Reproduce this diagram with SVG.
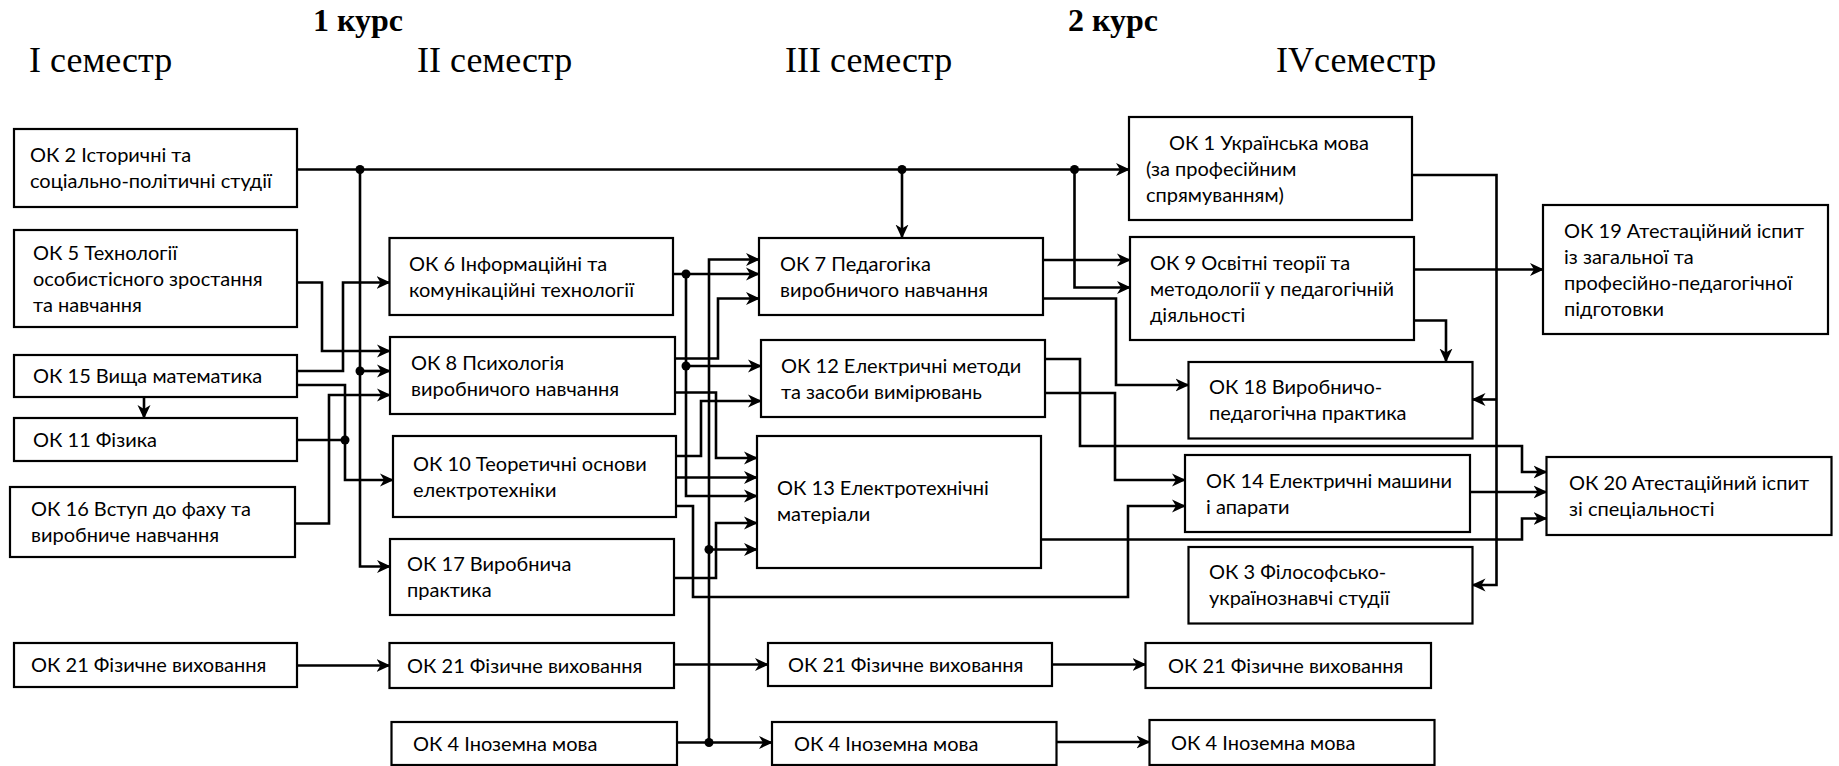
<svg xmlns="http://www.w3.org/2000/svg" width="1839" height="766" viewBox="0 0 1839 766">
<defs>
<marker id="ar" viewBox="0 0 14 14" refX="13" refY="7" markerWidth="14" markerHeight="14" markerUnits="userSpaceOnUse" orient="auto">
<path d="M0,0.5 L14,7 L0,13.5 L4,7 Z" fill="#000"/>
</marker>
<style>
.box{fill:#fff;stroke:#000;stroke-width:2.2}
.t{font-family:Lato,"Liberation Sans",sans-serif;font-size:20px;fill:#000}
.h{font-family:"Liberation Serif","Times New Roman",serif;font-size:36px;fill:#000}
.hb{font-family:"Liberation Serif","Times New Roman",serif;font-size:32px;font-weight:bold;fill:#000}
.c{fill:none;stroke:#000;stroke-width:2.6}
.a{marker-end:url(#ar)}
.d{fill:#000}
</style>
</defs>
<rect width="1839" height="766" fill="#fff"/>
<g id="titles">
<text class="hb" x="313" y="31">1 курс</text>
<text class="hb" x="1068" y="31">2 курс</text>
<text class="h" x="29" y="72">I семестр</text>
<text class="h" x="417" y="72">II семестр</text>
<text class="h" x="785" y="72">III семестр</text>
<text class="h" x="1276" y="72">IVсеместр</text>
</g>
<g id="connectors">
<path class="c a" d="M297,169.5 H1129"/>
<path class="c a" d="M360,169.5 V566.5 H390"/>
<path class="c a" d="M360,371 H390"/>
<path class="c a" d="M902,169.5 V237.5"/>
<path class="c a" d="M1074.5,169.5 V287.5 H1130"/>
<path class="c a" d="M297,282.5 H322 V351 H390"/>
<path class="c a" d="M297,371 H343 V282.5 H389.5"/>
<path class="c a" d="M297,385 H345 V480 H393"/>
<path class="c" d="M297,440 H345"/>
<path class="c a" d="M295,523.5 H329 V395 H390"/>
<path class="c a" d="M144,397 V418"/>
<path class="c a" d="M297,665.5 H389.5"/>
<path class="c a" d="M673,274 H759"/>
<path class="c a" d="M686,274 V496 H757"/>
<path class="c a" d="M686,366 H761"/>
<path class="c a" d="M675,358.5 H718 V298.5 H759"/>
<path class="c a" d="M675,392.5 H716 V458 H757"/>
<path class="c a" d="M676,456 H701 V401 H761"/>
<path class="c a" d="M676,477.5 H757"/>
<path class="c a" d="M676,506 H693 V597 H1128 V506 H1185"/>
<path class="c a" d="M674,578 H716 V523 H757"/>
<path class="c a" d="M709,742.5 V259.5 H759"/>
<path class="c a" d="M709,549.5 H757"/>
<path class="c a" d="M677,742.5 H772"/>
<path class="c a" d="M674,664.5 H768"/>
<path class="c a" d="M1052,664.5 H1145.5"/>
<path class="c a" d="M1056.5,742 H1149.5"/>
<path class="c a" d="M1043,260 H1130"/>
<path class="c a" d="M1043,298.5 H1116 V385 H1188.5"/>
<path class="c a" d="M1045,359 H1080 V446 H1522 V472 H1546.5"/>
<path class="c a" d="M1045,393 H1115 V480 H1185"/>
<path class="c a" d="M1041,539.5 H1522 V518.5 H1546.5"/>
<path class="c a" d="M1470,492 H1546.5"/>
<path class="c a" d="M1414,269.5 H1543"/>
<path class="c a" d="M1414,320.5 H1446 V361.5"/>
<path class="c a" d="M1412,175 H1496.5 V585 H1472.5"/>
<path class="c a" d="M1496.5,399.5 H1472.5"/>
<circle class="d" cx="360" cy="169.5" r="4.5"/>
<circle class="d" cx="902" cy="169.5" r="4.5"/>
<circle class="d" cx="1074.5" cy="169.5" r="4.5"/>
<circle class="d" cx="360" cy="371" r="4.5"/>
<circle class="d" cx="345" cy="440" r="4.5"/>
<circle class="d" cx="686" cy="274" r="4.5"/>
<circle class="d" cx="686" cy="366" r="4.5"/>
<circle class="d" cx="709" cy="549.5" r="4.5"/>
<circle class="d" cx="709" cy="742.5" r="4.5"/>
</g>
<g id="ok2"><rect class="box" x="14" y="129" width="283" height="78"/><text class="t" x="30" y="162">ОК 2 Історичні та</text><text class="t" x="30" y="188">соціально-політичні студії</text></g>
<g id="ok5"><rect class="box" x="14" y="230" width="283" height="97"/><text class="t" x="33" y="260">ОК 5 Технології</text><text class="t" x="33" y="286">особистісного зростання</text><text class="t" x="33" y="312">та навчання</text></g>
<g id="ok15"><rect class="box" x="14" y="355" width="283" height="42"/><text class="t" x="33" y="383">ОК 15 Вища математика</text></g>
<g id="ok11"><rect class="box" x="14" y="418" width="283" height="43"/><text class="t" x="33" y="447">ОК 11 Фізика</text></g>
<g id="ok16"><rect class="box" x="10" y="487" width="285" height="70"/><text class="t" x="31" y="516">ОК 16 Вступ до фаху та</text><text class="t" x="31" y="542">виробниче навчання</text></g>
<g id="ok21a"><rect class="box" x="14" y="643" width="283" height="44"/><text class="t" x="31" y="672">ОК 21 Фізичне виховання</text></g>
<g id="ok6"><rect class="box" x="389.5" y="238" width="283.5" height="77"/><text class="t" x="409" y="270.5">ОК 6 Інформаційні та</text><text class="t" x="409" y="296.5">комунікаційні технології</text></g>
<g id="ok8"><rect class="box" x="390" y="337" width="285" height="77"/><text class="t" x="411" y="369.5">ОК 8 Психологія</text><text class="t" x="411" y="395.5">виробничого навчання</text></g>
<g id="ok10"><rect class="box" x="393" y="436" width="283" height="81"/><text class="t" x="413" y="470.5">ОК 10 Теоретичні основи</text><text class="t" x="413" y="496.5">електротехніки</text></g>
<g id="ok17"><rect class="box" x="390" y="539" width="284" height="76"/><text class="t" x="407" y="571">ОК 17 Виробнича</text><text class="t" x="407" y="597">практика</text></g>
<g id="ok21b"><rect class="box" x="389.5" y="643" width="284.5" height="45"/><text class="t" x="407" y="672.5">ОК 21 Фізичне виховання</text></g>
<g id="ok4a"><rect class="box" x="391.5" y="722" width="285.5" height="43"/><text class="t" x="413" y="750.5">ОК 4 Іноземна мова</text></g>
<g id="ok7"><rect class="box" x="759" y="238" width="284" height="77"/><text class="t" x="780" y="270.5">ОК 7 Педагогіка</text><text class="t" x="780" y="296.5">виробничого навчання</text></g>
<g id="ok12"><rect class="box" x="761" y="340" width="284" height="77"/><text class="t" x="781" y="372.5">ОК 12 Електричні методи</text><text class="t" x="781" y="398.5">та засоби вимірювань</text></g>
<g id="ok13"><rect class="box" x="757" y="436" width="284" height="132"/><text class="t" x="777" y="495">ОК 13 Електротехнічні</text><text class="t" x="777" y="521">матеріали</text></g>
<g id="ok21c"><rect class="box" x="768" y="643" width="284" height="43"/><text class="t" x="788" y="671.5">ОК 21 Фізичне виховання</text></g>
<g id="ok4b"><rect class="box" x="772" y="722" width="284.5" height="43"/><text class="t" x="794" y="750.5">ОК 4 Іноземна мова</text></g>
<g id="ok1"><rect class="box" x="1129" y="117" width="283" height="103"/><text class="t" x="1169" y="149.5">ОК 1 Українська мова</text><text class="t" x="1146" y="175.5">(за професійним</text><text class="t" x="1146" y="201.5">спрямуванням)</text></g>
<g id="ok9"><rect class="box" x="1130" y="237" width="284" height="103"/><text class="t" x="1150" y="269.5">ОК 9 Освітні теорії та</text><text class="t" x="1150" y="295.5">методології у педагогічній</text><text class="t" x="1150" y="321.5">діяльності</text></g>
<g id="ok18"><rect class="box" x="1188.5" y="362" width="284" height="76.5"/><text class="t" x="1209" y="394">ОК 18 Виробничо-</text><text class="t" x="1209" y="420">педагогічна практика</text></g>
<g id="ok14"><rect class="box" x="1185" y="455" width="285" height="77"/><text class="t" x="1206" y="487.5">ОК 14 Електричні машини</text><text class="t" x="1206" y="513.5">і апарати</text></g>
<g id="ok3"><rect class="box" x="1188.5" y="547" width="284" height="76.5"/><text class="t" x="1209" y="579">ОК 3 Філософсько-</text><text class="t" x="1209" y="605">українознавчі студії</text></g>
<g id="ok21d"><rect class="box" x="1145.5" y="643" width="285.5" height="45"/><text class="t" x="1168" y="672.5">ОК 21 Фізичне виховання</text></g>
<g id="ok4c"><rect class="box" x="1149.5" y="720" width="285" height="45"/><text class="t" x="1171" y="749.5">ОК 4 Іноземна мова</text></g>
<g id="ok19"><rect class="box" x="1543" y="205" width="285" height="129"/><text class="t" x="1564" y="237.5">ОК 19 Атестаційний іспит</text><text class="t" x="1564" y="263.5">із загальної та</text><text class="t" x="1564" y="289.5">професійно-педагогічної</text><text class="t" x="1564" y="315.5">підготовки</text></g>
<g id="ok20"><rect class="box" x="1546.5" y="457" width="285" height="78"/><text class="t" x="1569" y="490">ОК 20 Атестаційний іспит</text><text class="t" x="1569" y="516">зі спеціальності</text></g>
</svg>
